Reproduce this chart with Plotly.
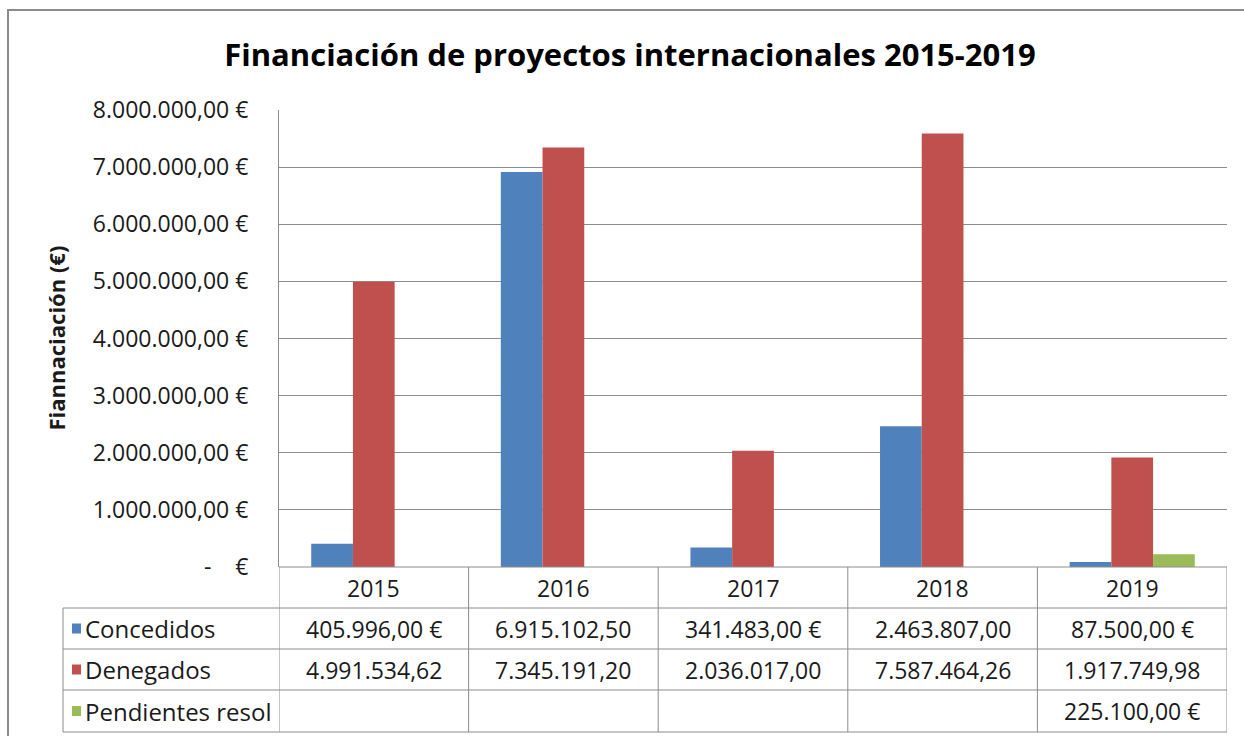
import plotly.graph_objects as go

# ---------------- data ----------------
years = ["2015", "2016", "2017", "2018", "2019"]
concedidos = [405996.00, 6915102.50, 341483.00, 2463807.00, 87500.00]
denegados = [4991534.62, 7345191.20, 2036017.00, 7587464.26, 1917749.98]
pendientes = [None, None, None, None, 225100.00]
series_names = ["Concedidos", "Denegados", "Pendientes resol"]
series_colors = ["#4F81BD", "#C0504D", "#9BBB59"]
y_tick_values = [0, 1000000, 2000000, 3000000, 4000000, 5000000, 6000000, 7000000, 8000000]

title_text = "Financiación de proyectos internacionales 2015-2019"
y_title = "Fiannaciación (€)"

FONT = "Open Sans"
TXT = "#1a1a1a"
LINE = "#8c8c8c"


def es_number(v):
    s = f"{v:,.2f}"
    return s.replace(",", "X").replace(".", ",").replace("X", ".")


def tick_label(v):
    if v == 0:
        return "-\u00a0\u00a0\u00a0\u00a0€"
    return es_number(v) + "\u00a0€"


def cell_label(v):
    if v is None:
        return ""
    if v >= 1000000:
        return es_number(v)  # too wide for the column -> currency symbol dropped
    return es_number(v) + "\u00a0€"


# ---------------- geometry (pixels) ----------------
W, H = 1244, 736
PL, PR, PT, PB = 279, 1227, 110, 567   # plot area
PW, PH = PR - PL, PB - PT


def px(x):
    return (x - PL) / PW


def py(y):
    return (PB - y) / PH


row_edges = [567, 608, 649, 690, 732]
table_left = 63

fig = go.Figure()
all_series = [concedidos, denegados, pendientes]
for name, vals, col in zip(series_names, all_series, series_colors):
    fig.add_trace(go.Bar(x=years, y=vals, name=name, marker=dict(color=col, line=dict(width=0))))

shapes = []
# outer chart border
shapes.append(dict(type="rect", xref="paper", yref="paper", x0=px(8), x1=px(1260), y0=py(760), y1=py(10),
                   line=dict(color="#8a8a8a", width=2), fillcolor="rgba(0,0,0,0)", layer="below"))
# table horizontal lines
shapes.append(dict(type="line", xref="x", yref="paper", x0=-0.5, x1=len(years) - 0.5,
                   y0=py(row_edges[0]), y1=py(row_edges[0]), line=dict(color=LINE, width=1)))
for ye in row_edges[1:]:
    shapes.append(dict(type="line", xref="paper", yref="paper", x0=px(table_left), x1=1,
                       y0=py(ye), y1=py(ye), line=dict(color=LINE, width=1)))
# left vertical of label column
shapes.append(dict(type="line", xref="paper", yref="paper", x0=px(table_left), x1=px(table_left),
                   y0=py(row_edges[1]), y1=py(row_edges[-1]), line=dict(color=LINE, width=1)))
# category column separators
for i in range(len(years) + 1):
    shapes.append(dict(type="line", xref="x", yref="paper", x0=i - 0.5, x1=i - 0.5,
                       y0=py(row_edges[0]), y1=py(row_edges[-1]), line=dict(color=LINE, width=1)))

annotations = []
# year header row
hc = (row_edges[0] + row_edges[1]) / 2
for i, yr in enumerate(years):
    annotations.append(dict(xref="x", yref="paper", x=i, y=py(hc), text=yr, showarrow=False,
                            xanchor="center", yanchor="middle", font=dict(family=FONT, size=23, color=TXT)))
# data rows
for r, (name, vals, col) in enumerate(zip(series_names, all_series, series_colors)):
    rc = (row_edges[r + 1] + row_edges[r + 2]) / 2
    shapes.append(dict(type="rect", xref="paper", yref="paper", x0=px(72), x1=px(81),
                       y0=py(rc + 5), y1=py(rc - 5), fillcolor=col, line=dict(width=0)))
    annotations.append(dict(xref="paper", yref="paper", x=px(83), y=py(rc), text=name, showarrow=False,
                            xanchor="left", yanchor="middle", font=dict(family=FONT, size=24, color=TXT)))
    for i, v in enumerate(vals):
        t = cell_label(v)
        if t:
            annotations.append(dict(xref="x", yref="paper", x=i, y=py(rc), text=t, showarrow=False,
                                    xanchor="center", yanchor="middle",
                                    font=dict(family=FONT, size=23, color=TXT)))
# y axis title
annotations.append(dict(xref="paper", yref="paper", x=px(55), y=0.5, text="<b>" + y_title + "</b>",
                        textangle=-90, showarrow=False, xanchor="center", yanchor="middle",
                        font=dict(family=FONT, size=22, color=TXT)))

fig.update_layout(
    width=W, height=H, autosize=False,
    margin=dict(l=PL, r=W - PR, t=PT, b=H - PB, pad=0),
    paper_bgcolor="white", plot_bgcolor="white",
    barmode="group", bargap=0.34, bargroupgap=0,
    showlegend=False,
    title=dict(text="<b>" + title_text + "</b>", xref="container", yref="container",
               x=630 / W, y=1 - 55 / H, xanchor="center", yanchor="middle",
               font=dict(family=FONT, size=31, color="#000")),
    xaxis=dict(type="category", range=[-0.5, len(years) - 0.5], showticklabels=False,
               showgrid=False, zeroline=False, showline=False, ticks=""),
    yaxis=dict(range=[0, 8000000], tickmode="array", tickvals=y_tick_values,
               ticktext=[tick_label(v) for v in y_tick_values],
               showgrid=True, gridcolor=LINE, gridwidth=1, zeroline=False,
               showline=True, linecolor=LINE, linewidth=1, ticks="",
               ticklabelstandoff=25, tickfont=dict(family=FONT, size=23, color=TXT)),
    shapes=shapes, annotations=annotations,
    font=dict(family=FONT, color=TXT),
)

fig.write_html("out.html", config={"displayModeBar": False},
               post_script="document.body.style.margin='0px';document.body.style.overflow='hidden';")
